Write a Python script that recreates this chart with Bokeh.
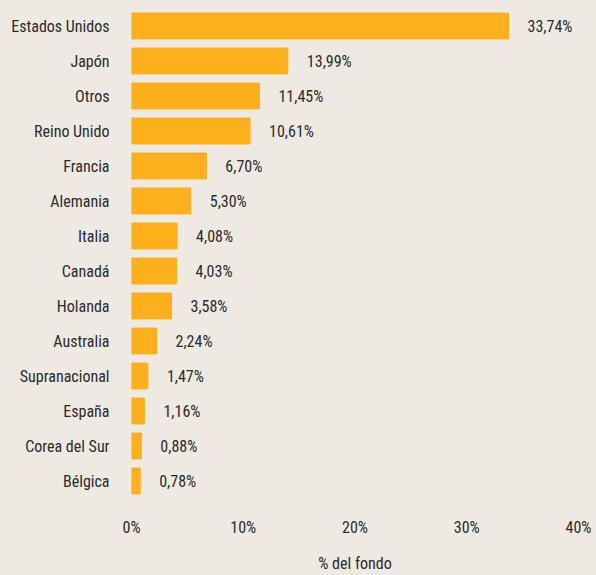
from bokeh.plotting import figure
from bokeh.models import ColumnDataSource, FixedTicker, GlobalInlineStyleSheet
from bokeh.core.properties import value
from bokeh.embed import file_html
from bokeh.resources import INLINE

countries = ["Estados Unidos", "Japón", "Otros", "Reino Unido", "Francia", "Alemania",
             "Italia", "Canadá", "Holanda", "Australia", "Supranacional", "España",
             "Corea del Sur", "Bélgica"]
shares = [33.74, 13.99, 11.45, 10.61, 6.70, 5.30, 4.08, 4.03, 3.58, 2.24, 1.47, 1.16, 0.88, 0.78]
share_labels = ["33,74%", "13,99%", "11,45%", "10,61%", "6,70%", "5,30%", "4,08%", "4,03%",
                "3,58%", "2,24%", "1,47%", "1,16%", "0,88%", "0,78%"]
x_ticks = [0, 10, 20, 30, 40]
x_tick_labels = ["0%", "10%", "20%", "30%", "40%"]
x_title = "% del fondo"

BG = "#efe9e3"
BAR = "#fdb01b"
TXT = "#2b2b2b"
FONT = "Roboto Condensed"
FS = "16px"

src = ColumnDataSource(dict(c=countries, v=shares, t=share_labels))

p = figure(width=596, height=575, y_range=list(reversed(countries)), x_range=(0, 40),
           output_backend="svg", toolbar_location=None,
           min_border_left=131, min_border_right=18, min_border_top=8, min_border_bottom=73)
p.hbar(y="c", right="v", left=0, height=0.74, source=src, fill_color=BAR, line_color=BAR)
p.text(x="v", y="c", text="t", source=src, x_offset=19, text_align="left",
       text_baseline="middle", text_font=value(FONT), text_font_size=FS, text_color=TXT)

p.background_fill_color = BG
p.border_fill_color = BG
p.outline_line_color = None
p.xgrid.visible = False
p.ygrid.visible = False

p.xaxis.ticker = FixedTicker(ticks=x_ticks)
p.xaxis.major_label_overrides = {t: l for t, l in zip(x_ticks, x_tick_labels)}
p.xaxis.axis_label = x_title
for ax in (p.xaxis, p.yaxis):
    ax.axis_line_color = None
    ax.major_tick_line_color = None
    ax.minor_tick_line_color = None
    ax.major_tick_out = 0
    ax.major_tick_in = 0
    ax.major_label_text_font = FONT
    ax.major_label_text_font_size = FS
    ax.major_label_text_color = TXT
p.xaxis.major_label_standoff = 19
p.xaxis.axis_label_standoff = 14
p.xaxis.axis_label_text_font = FONT
p.xaxis.axis_label_text_font_size = FS
p.xaxis.axis_label_text_font_style = "normal"
p.xaxis.axis_label_text_color = TXT
p.yaxis.major_label_standoff = 22

p.stylesheets = [GlobalInlineStyleSheet(css="body{background-color:%s;}" % BG)]

open("out.html", "w").write(file_html(p, INLINE))
